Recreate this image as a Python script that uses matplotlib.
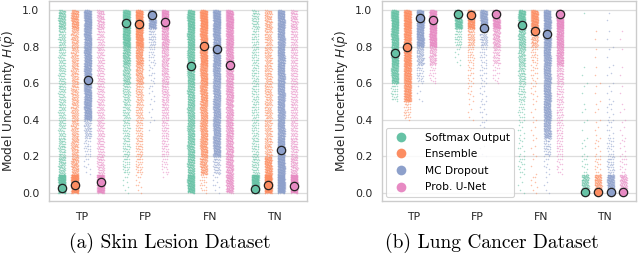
import numpy as np
import matplotlib.pyplot as plt
from matplotlib.lines import Line2D

categories = ["TP", "FP", "FN", "TN"]
methods = ["Softmax Output", "Ensemble", "MC Dropout", "Prob. U-Net"]
colors = ["#66c2a5", "#fc8d62", "#8da0cb", "#e78ac3"]

# point counts per uncertainty bin (0-0.1, 0.1-0.2, ..., 0.9-1.0), read off the strips
# one row per method: Softmax, Ensemble, MC Dropout, Prob. U-Net
skin_tp = [[400, 80, 60, 50, 50, 50, 50, 50, 60, 120],
           [400, 100, 80, 70, 70, 70, 70, 70, 80, 150],
           [0, 10, 25, 60, 250, 250, 250, 250, 250, 300],
           [300, 60, 50, 50, 50, 50, 50, 50, 50, 80]]
skin_fp = [[8, 30, 40, 40, 50, 60, 100, 150, 250, 300],
           [10, 30, 40, 40, 50, 60, 100, 150, 250, 300],
           [0, 0, 0, 2, 5, 8, 12, 20, 40, 250],
           [1, 20, 35, 40, 50, 60, 70, 80, 120, 250]]
skin_fn = [[250, 150, 150, 150, 150, 150, 180, 200, 220, 250],
           [20, 120, 150, 150, 150, 170, 200, 250, 250, 300],
           [10, 50, 200, 200, 200, 200, 220, 250, 250, 300],
           [150, 130, 130, 130, 130, 150, 150, 180, 200, 250]]
skin_tn = [[350, 50, 40, 35, 35, 35, 35, 35, 35, 50],
           [400, 180, 70, 60, 60, 60, 60, 60, 60, 80],
           [400, 300, 250, 220, 220, 220, 220, 220, 220, 250],
           [350, 80, 60, 50, 50, 50, 50, 50, 50, 70]]

lung_tp = [[0, 0, 0, 0, 0, 30, 200, 250, 250, 300],
           [0, 0, 0, 0, 30, 200, 220, 250, 250, 300],
           [0, 0, 0, 0, 0, 5, 30, 80, 250, 300],
           [0, 0, 0, 0, 0, 0, 20, 80, 250, 300]]
lung_fp = [[0, 0, 0, 0, 0, 0, 0, 8, 40, 250],
           [0, 0, 0, 0, 5, 10, 15, 25, 60, 250],
           [0, 0, 5, 8, 10, 10, 15, 20, 60, 250],
           [0, 0, 0, 0, 0, 0, 15, 50, 100, 250]]
lung_fn = [[5, 15, 10, 10, 20, 40, 60, 80, 120, 250],
           [8, 3, 5, 5, 5, 10, 15, 25, 80, 250],
           [5, 10, 40, 150, 200, 200, 200, 220, 250, 300],
           [0, 15, 25, 30, 35, 40, 60, 150, 200, 300]]
lung_tn = [[120, 12, 6, 3, 4, 2, 3, 0, 0, 1],
           [120, 15, 8, 5, 4, 3, 3, 2, 2, 0],
           [200, 35, 20, 10, 8, 5, 4, 3, 3, 2],
           [100, 15, 8, 5, 4, 2, 2, 1, 2, 0]]

# median uncertainty, rows = categories, cols = methods
skin_medians = [[0.026, 0.044, 0.616, 0.058],
                [0.930, 0.923, 0.972, 0.936],
                [0.693, 0.804, 0.788, 0.697],
                [0.018, 0.044, 0.232, 0.035]]
lung_medians = [[0.766, 0.797, 0.958, 0.947],
                [0.980, 0.976, 0.900, 0.980],
                [0.918, 0.885, 0.867, 0.980],
                [0.004, 0.002, 0.004, 0.002]]

offsets = [-0.3, -0.1, 0.1, 0.3]
bin_width = 0.1


def draw_panel(ax, counts, medians):
    for ci, cat in enumerate(counts):
        for mi, bins in enumerate(cat):
            xc = ci + offsets[mi]
            xs, ys = [], []
            for b, n in enumerate(bins):
                if not n:
                    continue
                k = np.arange(1, n + 1)
                # spread the bin's points with an R2 low-discrepancy sequence
                ys.append(b * bin_width + ((k * 0.5698402910 + 0.3) % 1) * bin_width)
                xs.append(xc + ((k * 0.7548776662 + 0.5) % 1 - 0.5) * 0.11)
            ax.scatter(np.concatenate(xs), np.concatenate(ys), s=1.2, color=colors[mi],
                       alpha=0.55, lw=0, zorder=2)
            ax.plot(xc, medians[ci][mi], "o", ms=6, mfc=colors[mi], mec="#222222",
                    mew=0.9, zorder=5)

    ax.set_xlim(-0.5, 3.5)
    ax.set_ylim(-0.045, 1.05)
    ax.set_xticks(range(4))
    ax.set_xticklabels(categories)
    ax.set_yticks([0, 0.2, 0.4, 0.6, 0.8, 1.0])
    ax.set_yticklabels(["0.0", "0.2", "0.4", "0.6", "0.8", "1.0"])
    ax.tick_params(axis="both", length=0, labelsize=7.8, colors="#262626")
    ax.tick_params(axis="x", pad=8)
    ax.tick_params(axis="y", pad=7)
    ax.grid(axis="y", color="#dddddd", lw=0.9, zorder=0)
    ax.set_axisbelow(True)
    for sp in ax.spines.values():
        sp.set_color("#cccccc")
        sp.set_linewidth(1.0)
    ax.set_ylabel(r"Model Uncertainty $H(\hat{p})$", fontsize=8.7, color="#262626",
                  labelpad=3)


fig = plt.figure(figsize=(6.4, 2.6), dpi=100)
ax1 = fig.add_axes([0.0766, 0.227, 0.403, 0.769])
ax2 = fig.add_axes([0.597, 0.227, 0.397, 0.769])

draw_panel(ax1, [skin_tp, skin_fp, skin_fn, skin_tn], skin_medians)
draw_panel(ax2, [lung_tp, lung_fp, lung_fn, lung_tn], lung_medians)

handles = [Line2D([], [], ls="", marker="o", ms=7, mfc=c, mec="none") for c in colors]
leg = ax2.legend(handles, methods, loc="lower left", fontsize=7.7, frameon=True,
                 edgecolor="#cccccc", framealpha=0.85, handletextpad=1.2,
                 labelspacing=0.62, borderaxespad=0.4)
leg.get_frame().set_linewidth(0.8)

fig.text(0.266, 0.065, "(a) Skin Lesion Dataset", ha="center", va="center",
         fontsize=14, family="cmr10")
fig.text(0.769, 0.065, "(b) Lung Cancer Dataset", ha="center", va="center",
         fontsize=14, family="cmr10")

fig.savefig("out.png", dpi=100)
